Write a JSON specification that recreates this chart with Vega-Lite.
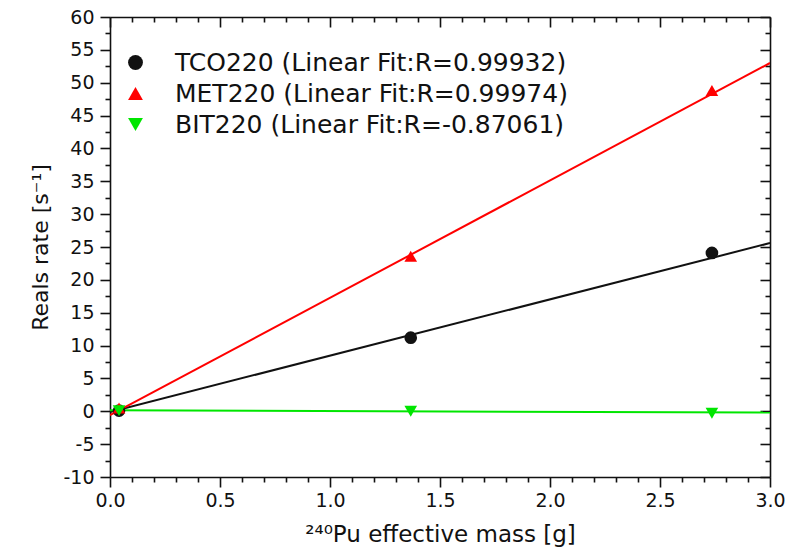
{
  "$schema": "https://vega.github.io/schema/vega-lite/v6.json",
  "width": 660,
  "height": 460,
  "autosize": {"type": "none"},
  "padding": {"left": 110, "top": 17, "right": 16, "bottom": 77},
  "background": "white",
  "config": {
    "view": {"stroke": null},
    "font": "DejaVu Sans",
    "axis": {
      "domainColor": "#111111",
      "domainWidth": 1.6,
      "tickColor": "#111111",
      "tickWidth": 1.6,
      "grid": false,
      "labelFont": "DejaVu Sans",
      "labelFontSize": 19,
      "labelColor": "#111111",
      "titleFont": "DejaVu Sans",
      "titleFontWeight": "normal",
      "titleColor": "#111111",
      "titleFontSize": 22,
      "labelOverlap": false,
      "labelFlush": false
    },
    "legend": {
      "orient": "none",
      "legendX": 13,
      "legendY": 33,
      "labelFont": "DejaVu Sans",
      "labelFontSize": 25,
      "labelColor": "#111111",
      "labelLimit": 700,
      "symbolSize": 220,
      "labelOffset": 27,
      "rowPadding": 5
    }
  },
  "datasets": {
    "fits": [
      {"series": "TCO220 (Linear Fit:R=0.99932)", "mass": 0.0, "rate": -0.1},
      {"series": "TCO220 (Linear Fit:R=0.99932)", "mass": 3.0, "rate": 25.6},
      {"series": "MET220 (Linear Fit:R=0.99974)", "mass": 0.0, "rate": -0.6},
      {"series": "MET220 (Linear Fit:R=0.99974)", "mass": 3.0, "rate": 53.0},
      {"series": "BIT220 (Linear Fit:R=-0.87061)", "mass": 0.0, "rate": 0.15},
      {"series": "BIT220 (Linear Fit:R=-0.87061)", "mass": 3.0, "rate": -0.2}
    ],
    "pts": [
      {"series": "TCO220 (Linear Fit:R=0.99932)", "mass": 0.041, "rate": 0.1},
      {"series": "TCO220 (Linear Fit:R=0.99932)", "mass": 1.367, "rate": 11.2},
      {"series": "TCO220 (Linear Fit:R=0.99932)", "mass": 2.736, "rate": 24.1},
      {"series": "MET220 (Linear Fit:R=0.99974)", "mass": 0.041, "rate": 0.5},
      {"series": "MET220 (Linear Fit:R=0.99974)", "mass": 1.367, "rate": 23.6},
      {"series": "MET220 (Linear Fit:R=0.99974)", "mass": 2.736, "rate": 48.8},
      {"series": "BIT220 (Linear Fit:R=-0.87061)", "mass": 0.041, "rate": 0.1},
      {"series": "BIT220 (Linear Fit:R=-0.87061)", "mass": 1.367, "rate": 0.0},
      {"series": "BIT220 (Linear Fit:R=-0.87061)", "mass": 2.736, "rate": -0.3}
    ]
  },
  "layer": [
    {
      "data": {"name": "fits"},
      "transform": [{"filter": "datum.series === 'TCO220 (Linear Fit:R=0.99932)'"}],
      "mark": {"type": "line", "strokeWidth": 2, "clip": true, "color": "#111111"},
      "encoding": {
        "x": {
          "field": "mass", "type": "quantitative",
          "scale": {"domain": [0, 3], "nice": false, "zero": false},
          "axis": {
            "orient": "bottom",
            "title": "²⁴⁰Pu effective mass [g]",
            "titleFontSize": 23,
            "titlePadding": 13,
            "values": [0,0.1,0.2,0.3,0.4,0.5,0.6,0.7,0.8,0.9,1,1.1,1.2,1.3,1.4,1.5,1.6,1.7,1.8,1.9,2,2.1,2.2,2.3,2.4,2.5,2.6,2.7,2.8,2.9,3],
            "format": ".1f",
            "labelExpr": "round(datum.value*10) % 5 === 0 ? datum.label : ''",
            "tickSize": {"condition": {"test": "round(datum.value*10) % 5 === 0", "value": 10}, "value": 5},
            "labelPadding": 4
          }
        },
        "y": {
          "field": "rate", "type": "quantitative",
          "scale": {"domain": [-10, 60], "nice": false, "zero": false},
          "axis": {
            "orient": "left",
            "title": "Reals rate [s⁻¹]",
            "titlePadding": 10,
            "values": [-10,-7.5,-5,-2.5,0,2.5,5,7.5,10,12.5,15,17.5,20,22.5,25,27.5,30,32.5,35,37.5,40,42.5,45,47.5,50,52.5,55,57.5,60],
            "labelExpr": "datum.value % 5 === 0 ? '' + datum.value : ''",
            "tickSize": {"condition": {"test": "datum.value % 5 === 0", "value": 10}, "value": 5},
            "labelPadding": 6
          }
        }
      }
    },
    {
      "data": {"name": "fits"},
      "transform": [{"filter": "datum.series === 'MET220 (Linear Fit:R=0.99974)'"}],
      "mark": {"type": "line", "strokeWidth": 2, "clip": true, "color": "#ff0000"},
      "encoding": {
        "x": {"field": "mass", "type": "quantitative", "axis": null},
        "y": {"field": "rate", "type": "quantitative", "axis": null}
      }
    },
    {
      "data": {"name": "fits"},
      "transform": [{"filter": "datum.series === 'BIT220 (Linear Fit:R=-0.87061)'"}],
      "mark": {"type": "line", "strokeWidth": 2, "clip": true, "color": "#00e600"},
      "encoding": {
        "x": {"field": "mass", "type": "quantitative", "axis": null},
        "y": {"field": "rate", "type": "quantitative", "axis": null}
      }
    },
    {
      "data": {"name": "pts"},
      "mark": {"type": "point", "filled": true, "opacity": 1, "size": 160},
      "encoding": {
        "x": {
          "field": "mass", "type": "quantitative",
          "axis": {
            "orient": "top",
            "title": null,
            "labels": false,
            "values": [0,0.1,0.2,0.3,0.4,0.5,0.6,0.7,0.8,0.9,1,1.1,1.2,1.3,1.4,1.5,1.6,1.7,1.8,1.9,2,2.1,2.2,2.3,2.4,2.5,2.6,2.7,2.8,2.9,3],
            "tickSize": {"condition": {"test": "round(datum.value*10) % 5 === 0", "value": -10}, "value": -5}
          }
        },
        "y": {
          "field": "rate", "type": "quantitative",
          "axis": {
            "orient": "right",
            "title": null,
            "labels": false,
            "values": [-10,-7.5,-5,-2.5,0,2.5,5,7.5,10,12.5,15,17.5,20,22.5,25,27.5,30,32.5,35,37.5,40,42.5,45,47.5,50,52.5,55,57.5,60],
            "tickSize": {"condition": {"test": "datum.value % 5 === 0", "value": -10}, "value": -5}
          }
        },
        "color": {
          "field": "series", "type": "nominal",
          "scale": {
            "domain": ["TCO220 (Linear Fit:R=0.99932)", "MET220 (Linear Fit:R=0.99974)", "BIT220 (Linear Fit:R=-0.87061)"],
            "range": ["#111111", "#ff0000", "#00e600"]
          },
          "legend": {"title": null}
        },
        "shape": {
          "field": "series", "type": "nominal",
          "scale": {
            "domain": ["TCO220 (Linear Fit:R=0.99932)", "MET220 (Linear Fit:R=0.99974)", "BIT220 (Linear Fit:R=-0.87061)"],
            "range": ["circle", "triangle-up", "triangle-down"]
          },
          "legend": {"title": null}
        }
      }
    }
  ],
  "resolve": {"axis": {"x": "independent", "y": "independent"}}
}
